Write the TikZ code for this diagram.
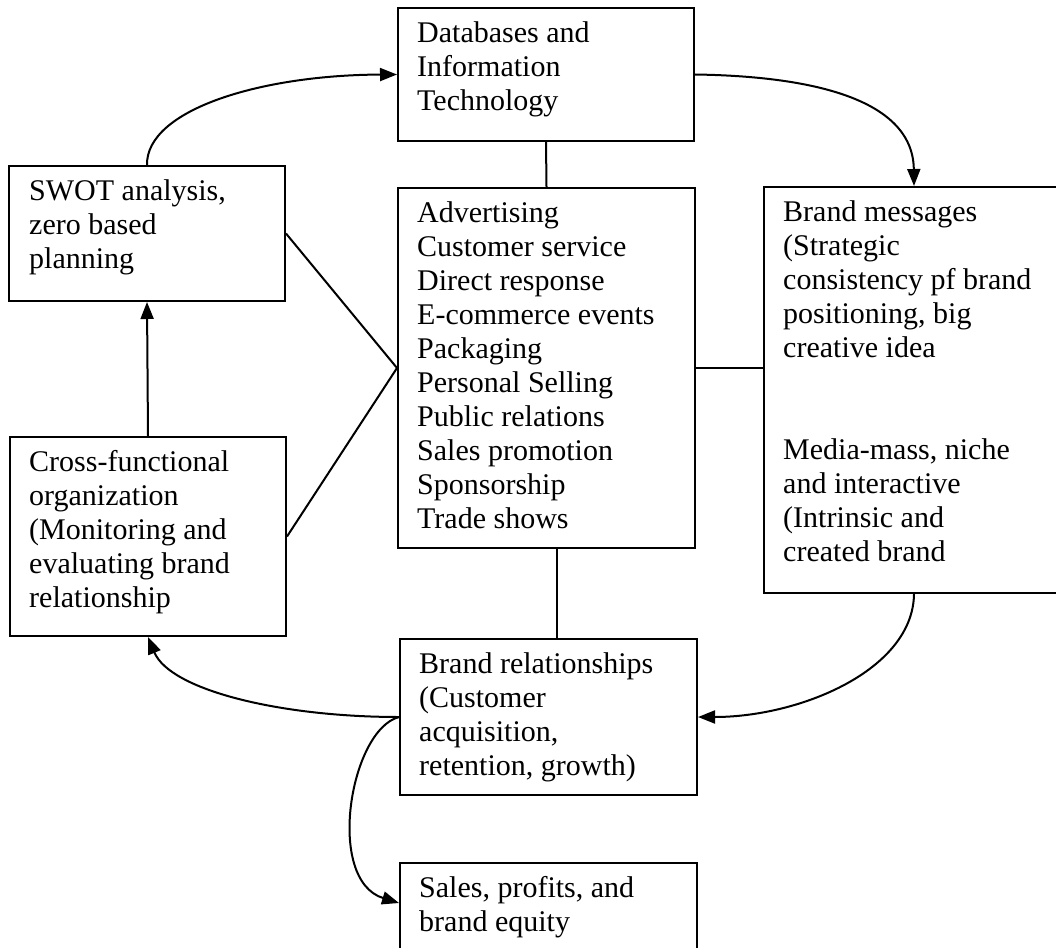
\documentclass[tikz,border=0pt]{standalone}
\usepackage{fontspec}
\setmainfont{Liberation Serif}
\usetikzlibrary{arrows.meta,calc}
\begin{document}
\begin{tikzpicture}[x=1pt,y=-1pt,
  box/.style={draw,line width=2pt,inner sep=0pt,anchor=north west},
  txt/.style={anchor=north west,inner sep=0pt,align=left,
    font=\fontsize{30}{34}\selectfont},
  link/.style={line width=2pt},
  flow/.style={line width=2pt,-{Triangle[length=17pt,width=13pt]}}]
\useasboundingbox (0,0) rectangle (1056,947);
\clip (0,0) rectangle (1056,947);
\fill[white] (0,0) rectangle (1056,947);

% boxes
\node[box,minimum width=296pt,minimum height=133pt] (db) at (397,7) {};
\node[box,minimum width=276pt,minimum height=135pt] (swot) at (8,165) {};
\node[box,minimum width=276pt,minimum height=199pt] (cross) at (9,436) {};
\node[box,minimum width=297pt,minimum height=360pt] (cb) at (397,187) {};
\node[box,minimum width=300pt,minimum height=406pt] (rb) at (763,186) {};
\node[box,minimum width=297pt,minimum height=156pt] (br) at (399,638) {};
\node[box,minimum width=297pt,minimum height=100pt] (sales) at (399,862) {};

% texts (first baseline 35 below the box top)
\node[txt] (dbt) at (417,18) {\rule{0pt}{24pt}Databases and\\Information\\Technology};
\node[txt] (swott) at (29,176) {\rule{0pt}{24pt}SWOT analysis,\\zero based\\planning};
\node[txt] (crosst) at (29,447) {\rule{0pt}{24pt}Cross-functional\\organization\\(Monitoring and\\evaluating brand\\relationship};
\node[txt] (cbt) at (417,198) {\rule{0pt}{24pt}Advertising\\Customer service\\Direct response\\E-commerce events\\Packaging\\Personal Selling\\Public relations\\Sales promotion\\Sponsorship\\Trade shows};
\node[txt] (rbt) at (783,197) {\rule{0pt}{24pt}Brand messages\\(Strategic\\consistency pf brand\\positioning, big\\creative idea\\[68pt]Media-mass, niche\\and interactive\\(Intrinsic and\\created brand};
\node[txt] (brt) at (419,649) {\rule{0pt}{24pt}Brand relationships\\(Customer\\acquisition,\\retention, growth)};
\node[txt] (salest) at (419,873) {\rule{0pt}{24pt}Sales, profits, and\\brand equity};

% plain links
\draw[link] (db.south) -- (cb.north);
\draw[link] (cb.east) -- (cb.east -| rb.west);
\draw[link] (swot.east) -- (cb.west);
\draw[link] (cross.east) -- (cb.west);
\draw[link] ([xshift=10pt]cb.south) -- ([xshift=10pt]cb.south |- br.north);

% arrows
\draw[flow] (swot.north) .. controls (146,110) and (260,75) .. (db.west);
\draw[flow] (db.east) .. controls (800,76) and (913,95) .. (rb.north);
\draw[flow] (rb.south) .. controls (913,670) and (800,717) .. (br.east);
\draw[flow] (br.west) .. controls (280,717) and (170,690) .. (cross.south);
\draw[flow] (cross.north) -- (swot.south);
\coordinate (salesin) at ($(sales.north west)+(0,41)$);
\draw[flow] (br.west) .. controls (350,730) and (325,880) .. (salesin);
\end{tikzpicture}
\end{document}
